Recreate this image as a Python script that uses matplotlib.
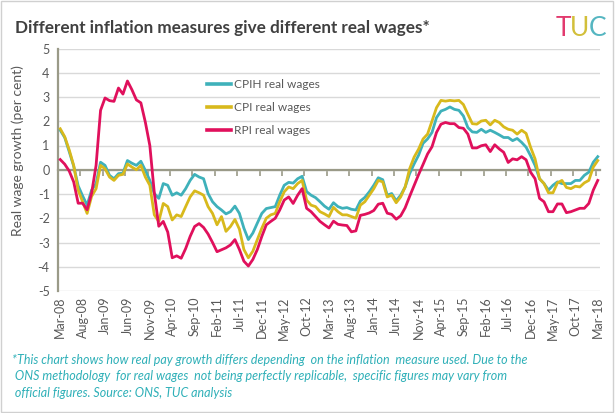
import matplotlib
matplotlib.use("Agg")
import matplotlib.pyplot as plt
from matplotlib.lines import Line2D
from matplotlib.patches import Rectangle
import numpy as np

plt.rcParams['font.family'] = ['Lato', 'DejaVu Sans']
plt.rcParams['axes.unicode_minus'] = False

tick_labels = ["Mar-08", "Aug-08", "Jan-09", "Jun-09", "Nov-09", "Apr-10", "Sep-10",
               "Feb-11", "Jul-11", "Dec-11", "May-12", "Oct-12", "Mar-13", "Aug-13",
               "Jan-14", "Jun-14", "Nov-14", "Apr-15", "Sep-15", "Feb-16", "Jul-16",
               "Dec-16", "May-17", "Oct-17", "Mar-18"]

cpih = [1.63, 1.33, 0.75, 0.15, -0.66, -1.08, -1.46, -0.84, -0.57, 0.31,
        0.18, -0.23, -0.37, -0.16, -0.14, 0.38, 0.27, 0.18, 0.35, -0.03,
        -0.44, -0.98, -1.18, -0.57, -0.64, -1.05, -0.95, -1.05, -0.78, -0.44,
        -0.19, -0.30, -0.37, -0.98, -1.32, -1.52, -1.66, -1.82, -1.73, -1.50,
        -1.80, -2.41, -2.88, -2.61, -2.20, -1.80, -1.60, -1.56, -1.52, -1.05,
        -0.64, -0.52, -0.55, -0.37, -0.27, -0.90, -1.05, -1.15, -1.32, -1.50,
        -1.63, -1.36, -1.52, -1.59, -1.56, -1.63, -1.66, -1.29, -1.14, -0.91,
        -0.64, -0.33, -0.41, -1.05, -0.98, -1.28, -1.05, -0.71, -0.16, 0.24,
        0.60, 1.09, 1.27, 1.54, 2.15, 2.42, 2.49, 2.59, 2.49, 2.45,
        2.22, 1.74, 1.56, 1.54, 1.67, 1.54, 1.63, 1.54, 1.44, 1.33,
        1.33, 1.20, 1.29, 1.13, 0.93, 0.58, 0.18, -0.37, -0.57, -0.84,
        -0.64, -0.50, -0.57, -0.57, -0.57, -0.44, -0.44, -0.23, -0.10, 0.31,
        0.54]

cpi = [1.69, 1.36, 0.82, 0.18, -0.84, -1.32, -1.80, -1.10, -0.78, 0.18,
       0.04, -0.30, -0.44, -0.23, -0.19, 0.24, 0.11, 0.00, 0.18, -0.30,
       -0.64, -1.86, -2.13, -1.39, -1.52, -2.07, -1.86, -1.93, -1.52, -1.12,
       -0.87, -0.95, -1.05, -1.52, -1.80, -2.27, -1.93, -2.54, -2.34, -2.05,
       -2.45, -3.29, -3.63, -3.36, -2.88, -2.41, -2.00, -1.86, -1.80, -1.32,
       -0.91, -0.71, -0.78, -0.57, -0.44, -1.25, -1.46, -1.52, -1.73, -1.82,
       -1.93, -1.55, -1.73, -1.86, -1.86, -1.93, -2.00, -1.46, -1.32, -1.05,
       -0.78, -0.44, -0.50, -1.12, -1.05, -1.36, -1.12, -0.71, 0.04, 0.52,
       0.85, 1.27, 1.47, 2.01, 2.56, 2.86, 2.83, 2.86, 2.84, 2.86,
       2.69, 2.29, 1.90, 1.88, 2.01, 2.04, 1.85, 2.04, 1.95, 1.77,
       1.67, 1.63, 1.47, 1.63, 1.50, 0.93, 0.45, -0.37, -0.57, -0.95,
       -0.95, -0.54, -0.44, -0.73, -0.78, -0.68, -0.71, -0.54, -0.44, 0.11,
       0.38]

rpi = [0.42, 0.23, -0.05, -0.50, -1.38, -1.38, -1.65, -0.97, 0.18, 2.45,
       2.96, 2.85, 2.82, 3.37, 3.12, 3.66, 3.30, 2.88, 2.76, 1.96,
       1.00, -0.95, -2.33, -2.13, -2.57, -3.63, -3.55, -3.65, -3.25, -2.75,
       -2.34, -2.22, -2.38, -2.65, -3.00, -3.38, -3.30, -3.22, -3.10, -2.88,
       -3.29, -3.77, -3.97, -3.70, -3.29, -2.75, -2.27, -2.13, -2.00, -1.66,
       -1.25, -1.12, -1.39, -1.05, -0.78, -1.59, -1.73, -1.93, -2.13, -2.27,
       -2.40, -2.12, -2.25, -2.28, -2.30, -2.56, -2.52, -1.88, -1.84, -1.78,
       -1.68, -1.42, -1.38, -1.79, -1.84, -2.04, -1.90, -1.57, -1.10, -0.65,
       -0.20, 0.22, 0.65, 0.95, 1.54, 1.88, 1.95, 1.90, 1.90, 1.74,
       1.71, 1.47, 0.90, 0.90, 0.99, 1.03, 0.75, 1.03, 0.86, 0.72,
       0.30, 0.45, 0.41, 0.54, 0.41, -0.10, -0.37, -1.18, -1.32, -1.73,
       -1.73, -1.41, -1.41, -1.77, -1.73, -1.66, -1.59, -1.59, -1.39, -0.84,
       -0.44]

series_names = ["CPIH real wages", "CPI real wages", "RPI real wages"]
colors = ["#3fb1ba", "#d8b91c", "#e0105c"]

n = len(cpih)
x = np.arange(n)

fig = plt.figure(figsize=(6.15, 4.13), dpi=100)
fig.patches.append(Rectangle((0.002, 0.002), 0.995, 0.995, transform=fig.transFigure,
                             fill=False, edgecolor="#d0d0d0", linewidth=1.0))

ax = fig.add_axes([58 / 615, 1 - 291 / 413, (600 - 58) / 615, (291 - 48.5) / 413])

axis_col = "#9a9a88"
grid_col = "#d9d9d9"
text_col = "#595959"

ax.set_ylim(-5, 5)
ax.set_xlim(-0.5, n - 0.5)
ax.set_yticks(np.arange(-5, 6, 1))
ax.set_yticklabels([str(v) for v in range(-5, 6)])
ax.yaxis.grid(True, color=grid_col, linewidth=1.0)
ax.set_axisbelow(True)
ax.tick_params(axis='y', length=0, pad=6, labelsize=9, labelcolor=text_col)

for s in ["top", "right"]:
    ax.spines[s].set_visible(False)
ax.spines["left"].set_color(axis_col)
ax.spines["left"].set_linewidth(1.6)
ax.spines["bottom"].set_position(("data", 0))
ax.spines["bottom"].set_color(axis_col)
ax.spines["bottom"].set_linewidth(1.6)
ax.spines["bottom"].set_zorder(1.5)

ax.set_xticks([])
ax.set_xticks(np.arange(-0.5, n, 5), minor=True)
ax.tick_params(axis='x', which='minor', length=4, width=1.2, color=axis_col, direction='out')
ax.tick_params(axis='x', which='major', length=0)

sec = ax.secondary_xaxis(0.0)
sec.set_xticks(np.arange(0, n, 5))
sec.set_xticklabels(tick_labels, rotation=90)
sec.tick_params(axis='x', length=0, pad=4, labelsize=9, labelcolor=text_col)
sec.spines["bottom"].set_visible(False)

for vals, name, c in zip([cpih, cpi, rpi], series_names, colors):
    ax.plot(x, vals, color=c, linewidth=2.0, label=name, solid_joinstyle='round', zorder=3)

handles = [Line2D([0], [0], color=c, linewidth=2.6) for c in colors]
leg = ax.legend(handles, series_names, loc="upper left", bbox_to_anchor=(0.255, 0.918),
                frameon=False, fontsize=8.6, handlelength=2.05, handletextpad=0.25,
                labelspacing=1.0)
for t in leg.get_texts():
    t.set_color(text_col)

fig.text(15 / 615, 1 - 28 / 413, "Different inflation measures give different real wages*",
         fontsize=12.3, fontweight="bold", color="#404040", va="center", ha="left")

fig.text(18 / 615, 1 - 151 / 413, "Real wage growth (per cent)", rotation=90,
         fontsize=10, color=text_col, va="center", ha="center")

# TUC logo
fig.text(563 / 615, 1 - 29 / 413, "T", fontsize=19, color="#e23a6e", va="center", ha="center")
fig.text(580 / 615, 1 - 29 / 413, "U", fontsize=19, color="#d2bf3a", va="center", ha="center")
fig.text(598 / 615, 1 - 29 / 413, "C", fontsize=19, color="#55b6c1", va="center", ha="center")

foot = ("*This chart shows how real pay growth differs depending  on the inflation  measure used. Due to the\n"
        " ONS methodology  for real wages  not being perfectly replicable,  specific figures may vary from\n"
        " official figures. Source: ONS, TUC analysis")
fig.text(12 / 615, 1 - 354 / 413, foot, fontsize=9, style="italic", color="#2fb0b8",
         va="top", ha="left", linespacing=1.45)

fig.savefig("out.png", dpi=100)
